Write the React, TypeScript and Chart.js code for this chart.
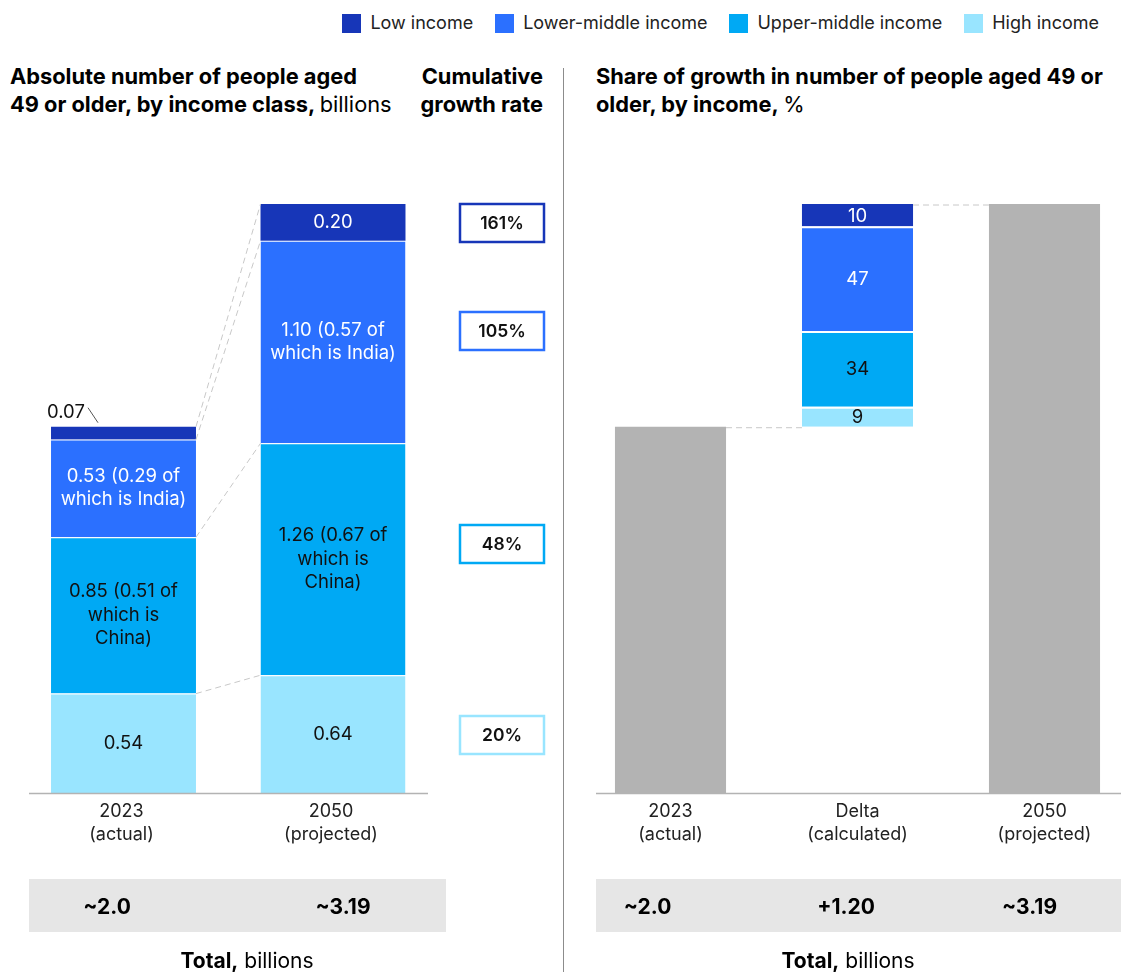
import React, { useEffect, useRef } from 'react';
import { Chart, registerables } from 'chart.js';

Chart.register(...registerables);

const FONT = 'Inter, "Liberation Sans", Arial, sans-serif';

// ---------- data ----------
const incomeClasses = ['Low income', 'Lower-middle income', 'Upper-middle income', 'High income'];
const incomeColors = ['#1736B8', '#2B70FF', '#00A9F4', '#99E5FF'];
const leftCategories = [['2023', '(actual)'], ['2050', '(projected)']];
const lowIncome = [0.07, 0.2];
const lowerMiddleIncome = [0.53, 1.1];
const upperMiddleIncome = [0.85, 1.26];
const highIncome = [0.54, 0.64];
const indiaOfLowerMiddle = [0.29, 0.57];
const chinaOfUpperMiddle = [0.51, 0.67];
const cumulativeGrowth = [161, 105, 48, 20]; // low, lower-middle, upper-middle, high
const rightCategories = [['2023', '(actual)'], ['Delta', '(calculated)'], ['2050', '(projected)']];
const growthShare = [10, 47, 34, 9]; // low, lower-middle, upper-middle, high
const leftTotalLabels = ['~2.0', '~3.19'];
const rightTotalLabels = ['~2.0', '+1.20', '~3.19'];

const sum = (i: number) => lowIncome[i] + lowerMiddleIncome[i] + upperMiddleIncome[i] + highIncome[i];
const total2023 = sum(0);
const total2050 = sum(1);
const deltaTotal = total2050 - total2023;

const LABEL_FONT = `18.5px ${FONT}`;
const AXIS_FONT = `18px ${FONT}`;

// ---------- helpers ----------
function drawLines(ctx: CanvasRenderingContext2D, lines: string[], x: number, cy: number, lh: number) {
  const start = cy - ((lines.length - 1) * lh) / 2;
  lines.forEach((l, i) => ctx.fillText(l, x, start + i * lh));
}

// ---------- left chart ----------
const GROWTH_BOX_CENTERS = [223, 331, 544, 735];

const leftPlugin = {
  id: 'leftDecor',
  afterDatasetsDraw(chart: any) {
    const ctx: CanvasRenderingContext2D = chart.ctx;
    const y0 = chart.scales.y.getPixelForValue(0);
    ctx.save();
    // axis line
    ctx.strokeStyle = '#b3b3b3';
    ctx.lineWidth = 1.5;
    ctx.beginPath();
    ctx.moveTo(29, y0 + 0.5);
    ctx.lineTo(428, y0 + 0.5);
    ctx.stroke();

    const metas = [0, 1, 2, 3].map((d) => chart.getDatasetMeta(d));
    // connectors
    ctx.setLineDash([6, 4]);
    ctx.strokeStyle = '#c8c8c8';
    ctx.lineWidth = 1;
    for (let d = 0; d < 4; d++) {
      const a = metas[d].data[0];
      const b = metas[d].data[1];
      ctx.beginPath();
      ctx.moveTo(a.x + a.width / 2, a.y);
      ctx.lineTo(b.x - b.width / 2, b.y);
      ctx.stroke();
    }
    ctx.setLineDash([]);

    // segment labels
    ctx.font = LABEL_FONT;
    ctx.textAlign = 'center';
    ctx.textBaseline = 'middle';
    for (let i = 0; i < 2; i++) {
      // high
      let el = metas[0].data[i];
      ctx.fillStyle = '#111';
      drawLines(ctx, [highIncome[i].toFixed(2)], el.x, (el.y + el.base) / 2, 23);
      // upper-middle
      el = metas[1].data[i];
      drawLines(
        ctx,
        [`${upperMiddleIncome[i].toFixed(2)} (${chinaOfUpperMiddle[i].toFixed(2)} of`, 'which is', 'China)'],
        el.x,
        (el.y + el.base) / 2,
        23.5
      );
      // lower-middle
      el = metas[2].data[i];
      ctx.fillStyle = '#fff';
      drawLines(
        ctx,
        [`${lowerMiddleIncome[i].toFixed(2)} (${indiaOfLowerMiddle[i].toFixed(2)} of`, 'which is India)'],
        el.x,
        (el.y + el.base) / 2,
        23
      );
      // low
      el = metas[3].data[i];
      if (i === 1) {
        drawLines(ctx, [lowIncome[i].toFixed(2)], el.x, (el.y + el.base) / 2, 23);
      } else {
        const left = el.x - el.width / 2;
        ctx.fillStyle = '#111';
        ctx.textAlign = 'left';
        ctx.fillText(lowIncome[i].toFixed(2), left - 4, el.y - 14);
        ctx.textAlign = 'center';
        ctx.strokeStyle = '#555';
        ctx.lineWidth = 1;
        ctx.beginPath();
        ctx.moveTo(left + 37, el.y - 19);
        ctx.lineTo(left + 47, el.y - 4);
        ctx.stroke();
      }
    }

    // x labels
    ctx.fillStyle = '#222';
    ctx.font = AXIS_FONT;
    leftCategories.forEach((lines, i) => {
      const x = metas[0].data[i].x;
      drawLines(ctx, lines, x - 2, y0 + 30, 23);
    });

    // growth boxes
    [0, 1, 2, 3].forEach((k) => {
      const cy = GROWTH_BOX_CENTERS[k];
      ctx.strokeStyle = incomeColors[k];
      ctx.lineWidth = 2.5;
      ctx.fillStyle = '#fff';
      ctx.fillRect(460, cy - 19, 84, 38);
      ctx.strokeRect(460, cy - 19, 84, 38);
      ctx.fillStyle = '#111';
      ctx.font = `600 17.5px ${FONT}`;
      ctx.fillText(`${cumulativeGrowth[k]}%`, 502, cy + 1);
    });
    ctx.restore();
  },
};

function LeftChart() {
  const ref = useRef<HTMLCanvasElement>(null);
  useEffect(() => {
    const stackOrder = [3, 2, 1, 0]; // high, upper-middle, lower-middle, low (bottom to top)
    const values = [lowIncome, lowerMiddleIncome, upperMiddleIncome, highIncome];
    const chart = new Chart(ref.current as HTMLCanvasElement, {
      type: 'bar',
      data: {
        labels: leftCategories.map((l) => l[0]),
        datasets: stackOrder.map((k) => ({
          label: incomeClasses[k],
          data: values[k],
          backgroundColor: incomeColors[k],
          borderColor: '#ffffff',
          borderWidth: { top: k === 0 ? 0 : 1, right: 0, bottom: 0, left: 0 },
          borderSkipped: false,
          barPercentage: 0.692,
          categoryPercentage: 1,
        })),
      },
      options: {
        animation: false,
        responsive: false,
        layout: { padding: { left: 18.75, right: 560 - 437.75, top: 204, bottom: 182 } },
        plugins: { legend: { display: false }, tooltip: { enabled: false } },
        scales: {
          x: { display: false, stacked: true },
          y: { display: false, stacked: true, min: 0, max: 3.2 },
        },
      },
      plugins: [leftPlugin],
    } as any);
    return () => chart.destroy();
  }, []);
  return <canvas ref={ref} width={560} height={975} style={{ position: 'absolute', left: 0, top: 0 }} />;
}

// ---------- right chart ----------
const RIGHT_LEFT = 577;

const rightPlugin = {
  id: 'rightDecor',
  afterDatasetsDraw(chart: any) {
    const ctx: CanvasRenderingContext2D = chart.ctx;
    const ys = chart.scales.y;
    const y0 = ys.getPixelForValue(0);
    ctx.save();
    ctx.strokeStyle = '#b3b3b3';
    ctx.lineWidth = 1.5;
    ctx.beginPath();
    ctx.moveTo(596 - RIGHT_LEFT, y0 + 0.5);
    ctx.lineTo(1121 - RIGHT_LEFT, y0 + 0.5);
    ctx.stroke();

    const gray = chart.getDatasetMeta(0).data;
    const deltaEl = chart.getDatasetMeta(1).data[1];
    // connectors
    ctx.setLineDash([6, 4]);
    ctx.strokeStyle = '#c8c8c8';
    ctx.lineWidth = 1;
    const yA = ys.getPixelForValue(total2023);
    const yB = ys.getPixelForValue(total2050);
    ctx.beginPath();
    ctx.moveTo(gray[0].x + gray[0].width / 2, yA + 1);
    ctx.lineTo(deltaEl.x - deltaEl.width / 2, yA + 1);
    ctx.moveTo(deltaEl.x + deltaEl.width / 2, yB + 1);
    ctx.lineTo(gray[2].x - gray[2].width / 2, yB + 1);
    ctx.stroke();
    ctx.setLineDash([]);

    // delta labels
    ctx.font = LABEL_FONT;
    ctx.textAlign = 'center';
    ctx.textBaseline = 'middle';
    const stackOrder = [3, 2, 1, 0];
    stackOrder.forEach((k, d) => {
      const el = chart.getDatasetMeta(d + 1).data[1];
      ctx.fillStyle = k <= 1 ? '#fff' : '#111';
      ctx.fillText(String(growthShare[k]), el.x, (el.y + el.base) / 2 + 1);
    });

    // x labels
    ctx.fillStyle = '#222';
    ctx.font = AXIS_FONT;
    rightCategories.forEach((lines, i) => {
      const x = chart.scales.x.getPixelForValue(i);
      drawLines(ctx, lines, x, y0 + 30, 23);
    });
    ctx.restore();
  },
};

function RightChart() {
  const ref = useRef<HTMLCanvasElement>(null);
  useEffect(() => {
    const stackOrder = [3, 2, 1, 0];
    const ranges: number[][] = [];
    let base = total2023;
    stackOrder.forEach((k) => {
      const h = (growthShare[k] / 100) * deltaTotal;
      ranges[k] = [base, base + h];
      base += h;
    });
    const chart = new Chart(ref.current as HTMLCanvasElement, {
      type: 'bar',
      data: {
        labels: rightCategories.map((l) => l[0]),
        datasets: [
          {
            label: 'Total',
            data: [[0, total2023], null, [0, total2050]],
            backgroundColor: '#B3B3B3',
            borderWidth: 0,
            barPercentage: 0.594,
            categoryPercentage: 1,
          },
          ...stackOrder.map((k) => ({
            label: incomeClasses[k],
            data: [null, ranges[k], null],
            backgroundColor: incomeColors[k],
            borderColor: '#ffffff',
            borderWidth: { top: k === 0 ? 0 : 2, right: 0, bottom: 0, left: 0 },
            borderSkipped: false,
            barPercentage: 0.594,
            categoryPercentage: 1,
          })),
        ],
      },
      options: {
        animation: false,
        responsive: false,
        layout: { padding: { left: 0, right: 0, top: 204, bottom: 182 } },
        plugins: { legend: { display: false }, tooltip: { enabled: false } },
        scales: {
          x: { display: false, stacked: true },
          y: { display: false, stacked: false, min: 0, max: 3.2 },
        },
      },
      plugins: [rightPlugin],
    } as any);
    return () => chart.destroy();
  }, []);
  return (
    <canvas ref={ref} width={561} height={975} style={{ position: 'absolute', left: RIGHT_LEFT, top: 0 }} />
  );
}

// ---------- page ----------
const abs = (s: React.CSSProperties): React.CSSProperties => ({ position: 'absolute', ...s });

export default function App() {
  useEffect(() => {
    document.body.style.margin = '0';
  }, []);
  const titleStyle: React.CSSProperties = {
    fontSize: 21.8,
    fontWeight: 700,
    lineHeight: '28px',
    color: '#000',
    whiteSpace: 'nowrap',
  };
  const totalText: React.CSSProperties = {
    position: 'absolute',
    top: 0,
    height: 55,
    lineHeight: '55px',
    fontSize: 21,
    fontWeight: 700,
    color: '#000',
    transform: 'translateX(-50%)',
    whiteSpace: 'nowrap',
  };
  const footer: React.CSSProperties = {
    position: 'absolute',
    top: 948,
    transform: 'translateX(-50%)',
    fontSize: 21,
    whiteSpace: 'nowrap',
    color: '#000',
  };
  return (
    <div
      style={{
        position: 'relative',
        width: 1121,
        height: 975,
        overflow: 'hidden',
        fontFamily: FONT,
        background: '#fff',
      }}
    >
      {/* legend */}
      <div style={abs({ top: 13, right: 22, display: 'flex', gap: 22, alignItems: 'center' })}>
        {incomeClasses.map((c, i) => (
          <div key={c} style={{ display: 'flex', alignItems: 'center' }}>
            <div style={{ width: 19, height: 19, background: incomeColors[i], marginRight: 9 }} />
            <span style={{ fontSize: 18, color: '#222', lineHeight: '20px' }}>{c}</span>
          </div>
        ))}
      </div>

      {/* titles */}
      <div style={abs({ left: 10, top: 62, ...titleStyle })}>
        Absolute number of people aged
        <br />
        49 or older, by income class, <span style={{ fontWeight: 'normal' }}>billions</span>
      </div>
      <div style={abs({ left: 343, width: 200, top: 62, textAlign: 'right', ...titleStyle })}>
        Cumulative
        <br />
        growth rate
      </div>
      <div style={abs({ left: 596, top: 62, ...titleStyle })}>
        Share of growth in number of people aged 49 or
        <br />
        older, by income, <span style={{ fontWeight: 'normal' }}> %</span>
      </div>

      <LeftChart />
      <RightChart />

      {/* separator */}
      <div style={abs({ left: 563, top: 68, width: 1, height: 904, background: '#8c8c8c' })} />

      {/* totals rows */}
      <div style={abs({ left: 29, top: 879, width: 417, height: 53, background: '#e6e6e6' })}>
        {leftTotalLabels.map((t, i) => (
          <div key={t} style={{ ...totalText, left: [78, 314][i] }}>
            {t}
          </div>
        ))}
      </div>
      <div style={abs({ left: 596, top: 879, width: 525, height: 53, background: '#e6e6e6' })}>
        {rightTotalLabels.map((t, i) => (
          <div key={t} style={{ ...totalText, left: [51.5, 250, 433.5][i] }}>
            {t}
          </div>
        ))}
      </div>

      {/* footers */}
      <div style={{ ...footer, left: 247 }}>
        <b style={{ fontWeight: 700 }}>Total,</b> billions
      </div>
      <div style={{ ...footer, left: 848 }}>
        <b style={{ fontWeight: 700 }}>Total,</b> billions
      </div>
    </div>
  );
}
